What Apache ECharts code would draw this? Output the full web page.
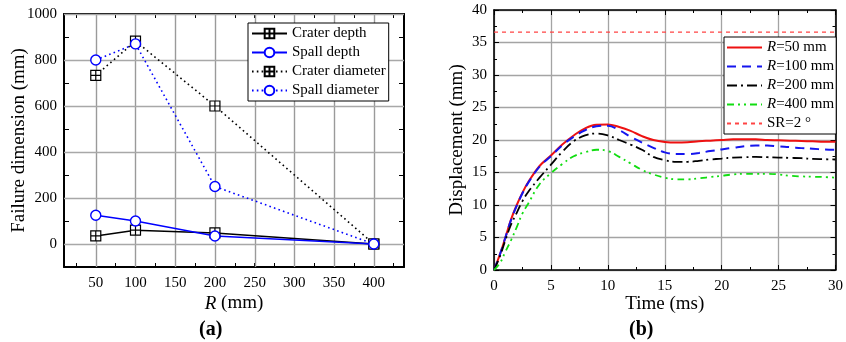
<!DOCTYPE html>
<html><head><meta charset="utf-8">
<script src="https://cdn.jsdelivr.net/npm/echarts@6/dist/echarts.min.js"></script>
<style>html,body{margin:0;padding:0;background:#fff}#c{width:846px;height:342px}</style>
</head><body><div id="c"></div>
<script>
// ---- (a) Failure dimension vs R ----
const radii = [50, 100, 200, 400];
const craterDepth = [35, 60, 48, 0];
const spallDepth = [125, 100, 35, 0];
const craterDiameter = [733, 882, 600, 0];
const spallDiameter = [800, 870, 250, 0];
const leftXLabels = [50, 100, 150, 200, 250, 300, 350, 400];
const leftXTicks = [25, 50, 75, 100, 125, 150, 175, 200, 225, 250, 275, 300, 325, 350, 375, 400, 425];
const leftYLabels = [0, 200, 400, 600, 800, 1000];
const leftXRange = [10, 438];
const leftYRange = [-100, 1000];

// ---- (b) Displacement vs time ----
const time   = [0, 0.5, 1, 1.5, 2, 2.5, 3, 4, 5, 6, 7, 8, 9, 10, 11, 12, 13, 14, 15, 16, 17, 18, 19, 20, 21, 22, 23, 24, 25, 26, 27, 28, 29, 30];
const dispR50  = [0, 2.3, 5.0, 7.8, 10.0, 11.9, 13.5, 16.0, 17.6, 19.3, 20.7, 21.8, 22.35, 22.4, 22.0, 21.4, 20.6, 20.0, 19.7, 19.6, 19.65, 19.8, 19.9, 20.0, 20.1, 20.1, 20.1, 20.0, 19.95, 19.9, 19.85, 19.8, 19.75, 19.75];
const dispR100 = [0, 2.3, 5.0, 7.7, 9.9, 11.8, 13.4, 15.9, 17.5, 19.2, 20.5, 21.5, 22.1, 22.2, 21.5, 20.5, 19.6, 18.8, 18.1, 17.85, 17.85, 18.0, 18.3, 18.55, 18.8, 19.05, 19.15, 19.15, 19.0, 18.9, 18.75, 18.65, 18.55, 18.5];
const dispR200 = [0, 2.0, 4.6, 7.0, 8.8, 10.6, 12.0, 14.2, 16.2, 18.2, 19.8, 20.7, 21.0, 20.7, 20.0, 19.3, 18.5, 17.4, 16.9, 16.65, 16.65, 16.8, 17.0, 17.15, 17.3, 17.35, 17.4, 17.35, 17.3, 17.25, 17.2, 17.1, 17.05, 17.0];
const dispR400 = [0, 1.0, 2.8, 4.6, 6.6, 8.7, 10.2, 13.2, 14.9, 16.3, 17.5, 18.1, 18.5, 18.3, 17.4, 16.4, 15.4, 14.7, 14.2, 13.95, 13.95, 14.1, 14.3, 14.5, 14.7, 14.8, 14.8, 14.8, 14.7, 14.5, 14.4, 14.35, 14.3, 14.2];
const srLimit = 36.6;
const timeRange = [0, 30];

const FONT = 'Liberation Serif';
const zip = (xs, ys) => xs.map((x, i) => [x, ys[i]]);
const crossSquare = 'path://M0,0L10,0L10,10L0,10Z M5,0L5,10 M0,5L10,5';
const GRID_V = '#9a9a9a';
const GRID_H = '#a8a8a8';
const GRID_B = '#a4a4a4';

const chart = echarts.init(document.getElementById('c'), null, {renderer: 'canvas'});

const baseLabel = {color: '#000', fontFamily: FONT, fontSize: 15};
const axisLineBlack = (w) => ({show: true, onZero: false, lineStyle: {color: '#000', width: w}});
const snap = p => Math.round(p) + 0.5;

// gridlines of panel (a): custom series placed through the axes' own scales (pixel-snapped)
const gridLineSeries = (values, vertical, color) => ({
  type: 'custom', xAxisIndex: 0, yAxisIndex: 0, z: 5, silent: true, clip: false,
  data: values.map(v => vertical ? [v, leftYRange[0]] : [leftXRange[0], v]),
  encode: {x: 0, y: 1},
  renderItem: (params, api) => {
    const a = vertical ? api.coord([api.value(0), leftYRange[0]]) : api.coord([leftXRange[0], api.value(1)]);
    const b = vertical ? api.coord([api.value(0), leftYRange[1]]) : api.coord([leftXRange[1], api.value(1)]);
    const shape = vertical
      ? {x1: snap(a[0]), y1: a[1], x2: snap(b[0]), y2: b[1]}
      : {x1: a[0], y1: snap(a[1]), x2: b[0], y2: snap(b[1])};
    return {type: 'line', shape, style: {stroke: color, lineWidth: 1.4}};
  }
});

const option = {
  animation: false,
  backgroundColor: '#fff',
  grid: [
    {left: 64, top: 14, width: 340, height: 253},
    {left: 494, top: 10, width: 349, height: 260}
  ],
  xAxis: [
    { // (a) bottom
      gridIndex: 0, type: 'value', position: 'bottom', min: leftXRange[0], max: leftXRange[1], splitNumber: 9,
      axisLine: axisLineBlack(2),
      axisTick: {show: true, inside: true, length: 4, customValues: leftXTicks, lineStyle: {color: '#000', width: 1}},
      axisLabel: Object.assign({margin: 9, customValues: leftXLabels}, baseLabel),
      splitLine: {show: false},
      name: '{i|R} (mm)', nameLocation: 'middle', nameGap: 27, nameMoveOverlap: false,
      nameTextStyle: {color: '#000', fontFamily: FONT, fontSize: 19,
        rich: {i: {fontStyle: 'italic', fontFamily: FONT, fontSize: 19, color: '#000'}}}
    },
    { // (a) top mirror
      gridIndex: 0, type: 'value', position: 'top', min: leftXRange[0], max: leftXRange[1], splitNumber: 9,
      axisLine: axisLineBlack(2),
      axisTick: {show: true, inside: true, length: 4, customValues: leftXTicks, lineStyle: {color: '#000', width: 1}},
      axisLabel: {show: false},
      splitLine: {show: false}
    },
    { // (b) bottom
      gridIndex: 1, type: 'value', position: 'bottom', min: timeRange[0], max: timeRange[1], interval: 5,
      axisLine: axisLineBlack(1.6),
      axisTick: {show: true, inside: true, length: 5, lineStyle: {color: '#000', width: 1}},
      minorTick: {show: true, splitNumber: 2, length: 3, lineStyle: {color: '#000'}},
      axisLabel: Object.assign({margin: 9, showMaxLabel: true}, baseLabel),
      splitLine: {show: true, lineStyle: {color: GRID_B, width: 1.3}},
      name: 'Time (ms)', nameLocation: 'middle', nameGap: 25, nameMoveOverlap: false,
      nameTextStyle: {color: '#000', fontFamily: FONT, fontSize: 19}
    },
    { // (b) top mirror
      gridIndex: 1, type: 'value', position: 'top', min: timeRange[0], max: timeRange[1], interval: 5,
      axisLine: axisLineBlack(1.6),
      axisTick: {show: true, inside: true, length: 5, lineStyle: {color: '#000', width: 1}},
      minorTick: {show: true, splitNumber: 2, length: 3, lineStyle: {color: '#000'}},
      axisLabel: {show: false}, splitLine: {show: false}
    }
  ],
  yAxis: [
    { // (a) left
      gridIndex: 0, type: 'value', position: 'left', min: leftYRange[0], max: leftYRange[1], interval: 100,
      axisLine: axisLineBlack(2),
      axisTick: {show: true, inside: true, length: 5, lineStyle: {color: '#000', width: 1}},
      axisLabel: Object.assign({margin: 7, formatter: v => (v % 200 === 0 ? String(v) : '')}, baseLabel),
      splitLine: {show: false},
      name: 'Failure dimension (mm)', nameLocation: 'middle', nameGap: 35, nameMoveOverlap: false,
      nameTextStyle: {color: '#000', fontFamily: FONT, fontSize: 19}
    },
    { // (a) right mirror
      gridIndex: 0, type: 'value', position: 'right', min: leftYRange[0], max: leftYRange[1], interval: 100,
      axisLine: axisLineBlack(2),
      axisTick: {show: true, inside: true, length: 5, lineStyle: {color: '#000', width: 1}},
      axisLabel: {show: false}, splitLine: {show: false}
    },
    { // (b) left
      gridIndex: 1, type: 'value', position: 'left', min: 0, max: 40, interval: 5,
      axisLine: axisLineBlack(1.6),
      axisTick: {show: true, inside: true, length: 5, lineStyle: {color: '#000', width: 1}},
      minorTick: {show: true, splitNumber: 2, length: 3, lineStyle: {color: '#000'}},
      axisLabel: Object.assign({margin: 7}, baseLabel),
      splitLine: {show: true, lineStyle: {color: GRID_B, width: 1.3}},
      name: 'Displacement (mm)', nameLocation: 'middle', nameGap: 27, nameMoveOverlap: false,
      nameTextStyle: {color: '#000', fontFamily: FONT, fontSize: 19}
    },
    { // (b) right mirror
      gridIndex: 1, type: 'value', position: 'right', min: 0, max: 40, interval: 5,
      axisLine: axisLineBlack(1.6),
      axisTick: {show: true, inside: true, length: 5, lineStyle: {color: '#000', width: 1}},
      minorTick: {show: true, splitNumber: 2, length: 3, lineStyle: {color: '#000'}},
      axisLabel: {show: false}, splitLine: {show: false}
    }
  ],
  legend: [
    {
      data: ['Crater depth', 'Spall depth', 'Crater diameter', 'Spall diameter'],
      orient: 'vertical', left: 248, top: 23, z: 10,
      backgroundColor: '#fff', borderColor: '#000', borderWidth: 1, borderRadius: 0,
      padding: [3, 3, 3, 3], itemGap: 4, itemWidth: 35, itemHeight: 12,
      textStyle: {color: '#000', fontFamily: FONT, fontSize: 15, lineHeight: 15}
    },
    {
      data: ['R=50 mm', 'R=100 mm', 'R=200 mm', 'R=400 mm', 'SR=2 °'],
      orient: 'vertical', left: 724, top: 37, z: 10,
      backgroundColor: '#fff', borderColor: '#000', borderWidth: 1, borderRadius: 0,
      padding: [3, 2, 3, 2], itemGap: 4, itemWidth: 35, itemHeight: 12,
      itemStyle: {opacity: 0},
      formatter: n => n.startsWith('R=') ? '{i|R}' + n.slice(1) : n,
      textStyle: {color: '#000', fontFamily: FONT, fontSize: 15, lineHeight: 15,
        rich: {i: {fontStyle: 'italic', fontFamily: FONT, fontSize: 15, color: '#000'}}}
    }
  ],
  graphic: [
    {type: 'text', left: 199, top: 320, style: {text: '(a)', font: 'bold 20px "Liberation Serif"', fill: '#000'}},
    {type: 'text', left: 629, top: 320, style: {text: '(b)', font: 'bold 20px "Liberation Serif"', fill: '#000'}}
  ],
  series: [
    gridLineSeries(leftXLabels, true, GRID_V),
    gridLineSeries(leftYLabels, false, GRID_H),
    {
      name: 'Crater depth', type: 'line', xAxisIndex: 0, yAxisIndex: 0, z: 6,
      data: zip(radii, craterDepth),
      symbol: crossSquare, symbolSize: 10,
      lineStyle: {color: '#000', width: 1.5},
      itemStyle: {color: '#fff', borderColor: '#000', borderWidth: 1.2}
    },
    {
      name: 'Spall depth', type: 'line', xAxisIndex: 0, yAxisIndex: 0, z: 6,
      data: zip(radii, spallDepth),
      symbol: 'circle', symbolSize: 10,
      lineStyle: {color: '#0000ff', width: 1.5},
      itemStyle: {color: '#fff', borderColor: '#0000ff', borderWidth: 1.4}
    },
    {
      name: 'Crater diameter', type: 'line', xAxisIndex: 0, yAxisIndex: 0, z: 6,
      data: zip(radii, craterDiameter),
      symbol: crossSquare, symbolSize: 10,
      lineStyle: {color: '#000', width: 1.6, type: [1.6, 3.2]},
      itemStyle: {color: '#fff', borderColor: '#000', borderWidth: 1.2}
    },
    {
      name: 'Spall diameter', type: 'line', xAxisIndex: 0, yAxisIndex: 0, z: 6,
      data: zip(radii, spallDiameter),
      symbol: 'circle', symbolSize: 10,
      lineStyle: {color: '#0000ff', width: 1.6, type: [1.6, 3.2]},
      itemStyle: {color: '#fff', borderColor: '#0000ff', borderWidth: 1.4}
    },
    {
      name: 'R=50 mm', type: 'line', xAxisIndex: 2, yAxisIndex: 2,
      data: zip(time, dispR50), smooth: 0.4, symbol: 'none',
      lineStyle: {color: '#ee1111', width: 2}, itemStyle: {color: '#ee1111'}
    },
    {
      name: 'R=100 mm', type: 'line', xAxisIndex: 2, yAxisIndex: 2,
      data: zip(time, dispR100), smooth: 0.4, symbol: 'none',
      lineStyle: {color: '#1515ee', width: 2, type: [9, 6]}, itemStyle: {color: '#1515ee'}
    },
    {
      name: 'R=200 mm', type: 'line', xAxisIndex: 2, yAxisIndex: 2,
      data: zip(time, dispR200), smooth: 0.4, symbol: 'none',
      lineStyle: {color: '#000', width: 1.8, type: [10, 4, 2, 4]}, itemStyle: {color: '#000'}
    },
    {
      name: 'R=400 mm', type: 'line', xAxisIndex: 2, yAxisIndex: 2,
      data: zip(time, dispR400), smooth: 0.4, symbol: 'none',
      lineStyle: {color: '#11dd11', width: 1.8, type: [7, 4, 2, 4, 2, 4]}, itemStyle: {color: '#11dd11'}
    },
    {
      name: 'SR=2 °', type: 'line', xAxisIndex: 2, yAxisIndex: 2,
      data: timeRange.map(t => [t, srLimit]), symbol: 'none',
      lineStyle: {color: '#ff4444', width: 1.3, type: [4, 4]}, itemStyle: {color: '#ff4444'}
    }
  ]
};
chart.setOption(option);
</script>
</body></html>
